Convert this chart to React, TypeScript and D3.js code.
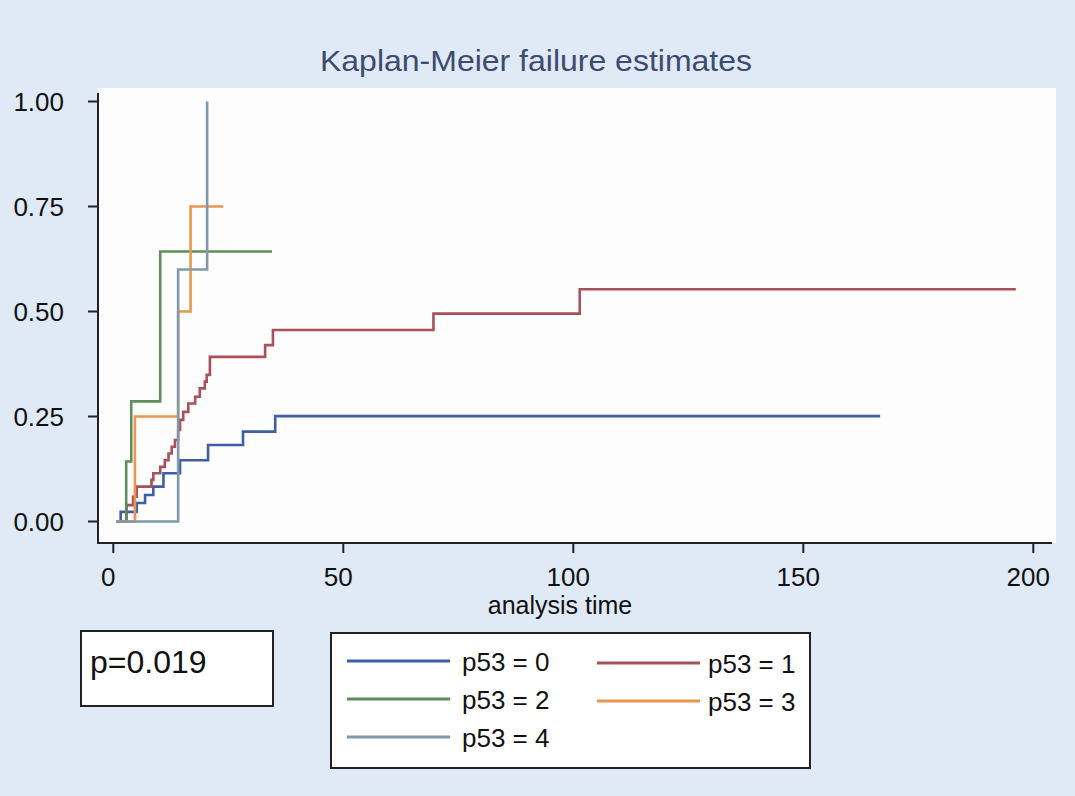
import React from "react";
import * as d3 from "d3";

// Kaplan-Meier failure estimates by p53 group (time, cumulative failure)
const times0 = [0.7, 1.6, 5.1, 6.9, 8.7, 10.9, 14.5, 20.6, 28.2, 35.2, 166.7];
const fail0 = [0, 0.023, 0.044, 0.063, 0.083, 0.115, 0.146, 0.182, 0.214, 0.251, 0.251];

const times1 = [0.7, 2.9, 4.3, 5.1, 8.3, 8.7, 10.2, 11.2, 12.0, 12.7, 13.4, 14.1, 14.5, 15.2, 16.3, 17.8, 18.8, 19.9, 20.3, 21.0, 33.0, 34.7, 69.6, 101.4, 196.2];
const fail1 = [0, 0.039, 0.059, 0.083, 0.099, 0.115, 0.13, 0.146, 0.162, 0.178, 0.194, 0.218, 0.242, 0.261, 0.281, 0.297, 0.317, 0.333, 0.349, 0.392, 0.42, 0.456, 0.495, 0.553, 0.553];

const times2 = [0.7, 2.8, 3.9, 10.2, 34.5];
const fail2 = [0, 0.143, 0.286, 0.643, 0.643];

const times3 = [0.7, 4.7, 14.1, 16.8, 23.9];
const fail3 = [0, 0.25, 0.5, 0.75, 0.75];

const times4 = [0.7, 14.1, 20.4];
const fail4 = [0, 0.6, 1.0];

const groupLabels = ["p53 = 0", "p53 = 1", "p53 = 2", "p53 = 3", "p53 = 4"];
const groupColors = ["#3f5fa5", "#a9515a", "#5e8d5e", "#e8984e", "#7f98aa"];

const xTicks = [0, 50, 100, 150, 200];
const yTicks = [0, 0.25, 0.5, 0.75, 1];

const pValueText = "p=0.019";

const W = 1075;
const H = 796;

export default function App() {
  const x = d3.scaleLinear().domain([0, 200]).range([113.3, 1033.3]);
  const y = d3.scaleLinear().domain([0, 1]).range([521.5, 101.5]);

  const series = [
    [times0, fail0],
    [times1, fail1],
    [times2, fail2],
    [times3, fail3],
    [times4, fail4],
  ].map(([t, f]) => t.map((tv, i) => [tv, f[i]] as [number, number]));

  const line = d3
    .line<[number, number]>()
    .x((d) => x(d[0]))
    .y((d) => y(d[1]))
    .curve(d3.curveStepAfter);

  const font = "'Liberation Sans', Arial, sans-serif";
  const axisY = 543;
  const axisX = 98;

  // legend layout: two columns, filled row by row
  const legendItems = groupLabels.map((lab, i) => {
    const col = i % 2;
    const row = Math.floor(i / 2);
    return {
      lab,
      color: groupColors[i],
      lx: col === 0 ? 347 : 597,
      ly: 661 + row * 38 + (col === 1 ? 2 : 0),
      tx: col === 0 ? 462 : 708,
    };
  });

  return (
    <svg
      width={W}
      height={H}
      style={{ position: "absolute", left: 0, top: 0, display: "block" }}
    >
      <rect x={0} y={0} width={W} height={H} fill="#dfeaf6" />
      <rect x={axisX} y={88} width={1056 - axisX} height={axisY - 88} fill="#fdfdfd" />

      <text
        x={536}
        y={71}
        textAnchor="middle"
        fontFamily={font}
        fontSize={30}
        fill="#3d4b70"
        textLength={432}
        lengthAdjust="spacingAndGlyphs"
      >
        Kaplan-Meier failure estimates
      </text>

      {/* curves */}
      {series.map((s, i) => (
        <path
          key={i}
          d={line(s) || ""}
          fill="none"
          stroke={groupColors[i]}
          strokeWidth={2.6}
          strokeLinejoin="miter"
        />
      ))}

      {/* y axis */}
      <line x1={axisX} x2={axisX} y1={93} y2={axisY} stroke="#222" strokeWidth={2} />
      {yTicks.map((v) => (
        <g key={v}>
          <line x1={axisX - 10} x2={axisX} y1={y(v)} y2={y(v)} stroke="#222" strokeWidth={2} />
          <text
            x={64}
            y={y(v)}
            dy="0.36em"
            textAnchor="end"
            fontFamily={font}
            fontSize={26}
            fill="#111"
          >
            {v.toFixed(2)}
          </text>
        </g>
      ))}

      {/* x axis */}
      <line x1={axisX - 1} x2={1052} y1={axisY} y2={axisY} stroke="#222" strokeWidth={2} />
      {xTicks.map((v) => (
        <g key={v}>
          <line x1={x(v)} x2={x(v)} y1={axisY} y2={axisY + 10} stroke="#222" strokeWidth={2} />
          <text
            x={x(v) - 5}
            y={586}
            textAnchor="middle"
            fontFamily={font}
            fontSize={26}
            fill="#111"
          >
            {v}
          </text>
        </g>
      ))}
      <text x={560} y={614} textAnchor="middle" fontFamily={font} fontSize={25} fill="#111">
        analysis time
      </text>

      {/* p-value box */}
      <rect x={81} y={631} width={192} height={75} fill="#ffffff" stroke="#222" strokeWidth={2} />
      <text x={90} y={673} fontFamily={font} fontSize={32} fill="#111">
        {pValueText}
      </text>

      {/* legend */}
      <rect x={331} y={633} width={479} height={135} fill="#ffffff" stroke="#222" strokeWidth={2} />
      {legendItems.map((it) => (
        <g key={it.lab}>
          <line x1={it.lx} x2={it.lx + 103} y1={it.ly} y2={it.ly} stroke={it.color} strokeWidth={3} />
          <text x={it.tx} y={it.ly} dy="0.4em" fontFamily={font} fontSize={26} fill="#111">
            {it.lab}
          </text>
        </g>
      ))}
    </svg>
  );
}
